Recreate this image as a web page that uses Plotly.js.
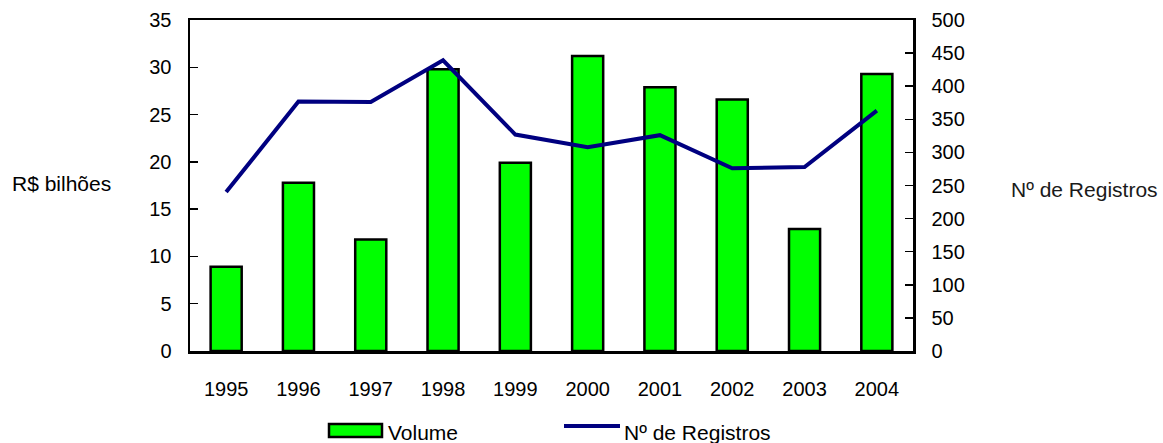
<!DOCTYPE html>
<html>
<head>
<meta charset="utf-8">
<script src="https://cdn.plot.ly/plotly-3.0.1.min.js"></script>
<style>html,body{margin:0;padding:0;background:#fff;}#chart{width:1163px;height:443px;}</style>
</head>
<body>
<div id="chart"></div>
<script>
const years = ['1995','1996','1997','1998','1999','2000','2001','2002','2003','2004'];
const volume = [8.9, 17.8, 11.8, 29.8, 19.9, 31.2, 27.9, 26.6, 12.9, 29.3];
const registros = [240, 377, 376, 439, 327, 308, 326, 276, 278, 363];
const leftTicks = [0,5,10,15,20,25,30,35];
const rightTicks = [0,50,100,150,200,250,300,350,400,450,500];

const FAM = 'Liberation Sans, Arial, sans-serif';
const tickFont = {family: FAM, size: 20, color: '#000'};
const textFont = {family: FAM, size: 21, color: '#000'};

// plot area in pixels: x 190..913, y 20..351
const PL = 190, PR = 913, PT = 20, PB = 351;
const px = v => (v - PL) / (PR - PL);
const py = v => (PB - v) / (PB - PT);

const data = [
  {type: 'bar', name: 'Volume', x: years, y: volume, yaxis: 'y',
   marker: {color: '#00ff00', line: {color: '#000', width: 2.5}}, width: 0.43},
  {type: 'scatter', mode: 'lines', name: 'Nº de Registros', x: years, y: registros, yaxis: 'y2',
   line: {color: '#000080', width: 4}}
];

const layout = {
  width: 1163, height: 443,
  margin: {l: PL, r: 1163 - PR, t: PT, b: 443 - PB, autoexpand: false},
  paper_bgcolor: '#fff', plot_bgcolor: '#fff',
  font: tickFont,
  showlegend: false,
  xaxis: {type: 'category', showline: true, linecolor: '#000', linewidth: 2.5, mirror: true,
          ticks: '', showgrid: false, tickfont: tickFont, ticklabelstandoff: 18},
  yaxis: {range: [0, 35], tickvals: leftTicks, showgrid: false, zeroline: false,
          showline: true, linecolor: '#000', linewidth: 2.5,
          ticks: 'inside', ticklen: 8, tickwidth: 1.5, tickcolor: '#000',
          tickfont: tickFont, ticklabelstandoff: 12},
  yaxis2: {range: [0, 500], tickvals: rightTicks, overlaying: 'y', side: 'right',
           showgrid: false, zeroline: false, showline: true, linecolor: '#000', linewidth: 2.5,
           ticks: 'inside', ticklen: 8, tickwidth: 1.5, tickcolor: '#000',
           tickfont: tickFont, ticklabelstandoff: 12},
  shapes: [
    {type: 'rect', xref: 'paper', yref: 'paper', x0: px(329), x1: px(382), y0: py(437), y1: py(424),
     fillcolor: '#00ff00', line: {color: '#000', width: 2.5}},
    {type: 'line', xref: 'paper', yref: 'paper', x0: px(564), x1: px(620), y0: py(426), y1: py(426),
     line: {color: '#000080', width: 4}}
  ],
  annotations: [
    {text: 'R$ bilhões', xref: 'paper', yref: 'paper', x: px(61), y: py(183),
     xanchor: 'center', yanchor: 'middle', showarrow: false, font: textFont},
    {text: 'Nº de Registros', xref: 'paper', yref: 'paper', x: px(1084), y: py(190),
     xanchor: 'center', yanchor: 'middle', showarrow: false,
     font: {family: FAM, size: 21, color: '#1a1a1a'}},
    {text: 'Volume', xref: 'paper', yref: 'paper', x: px(386), y: py(432),
     xanchor: 'left', yanchor: 'middle', showarrow: false, font: textFont},
    {text: 'Nº de Registros', xref: 'paper', yref: 'paper', x: px(622), y: py(432),
     xanchor: 'left', yanchor: 'middle', showarrow: false, font: textFont}
  ]
};

Plotly.newPlot('chart', data, layout, {displayModeBar: false, staticPlot: true});
</script>
</body>
</html>
